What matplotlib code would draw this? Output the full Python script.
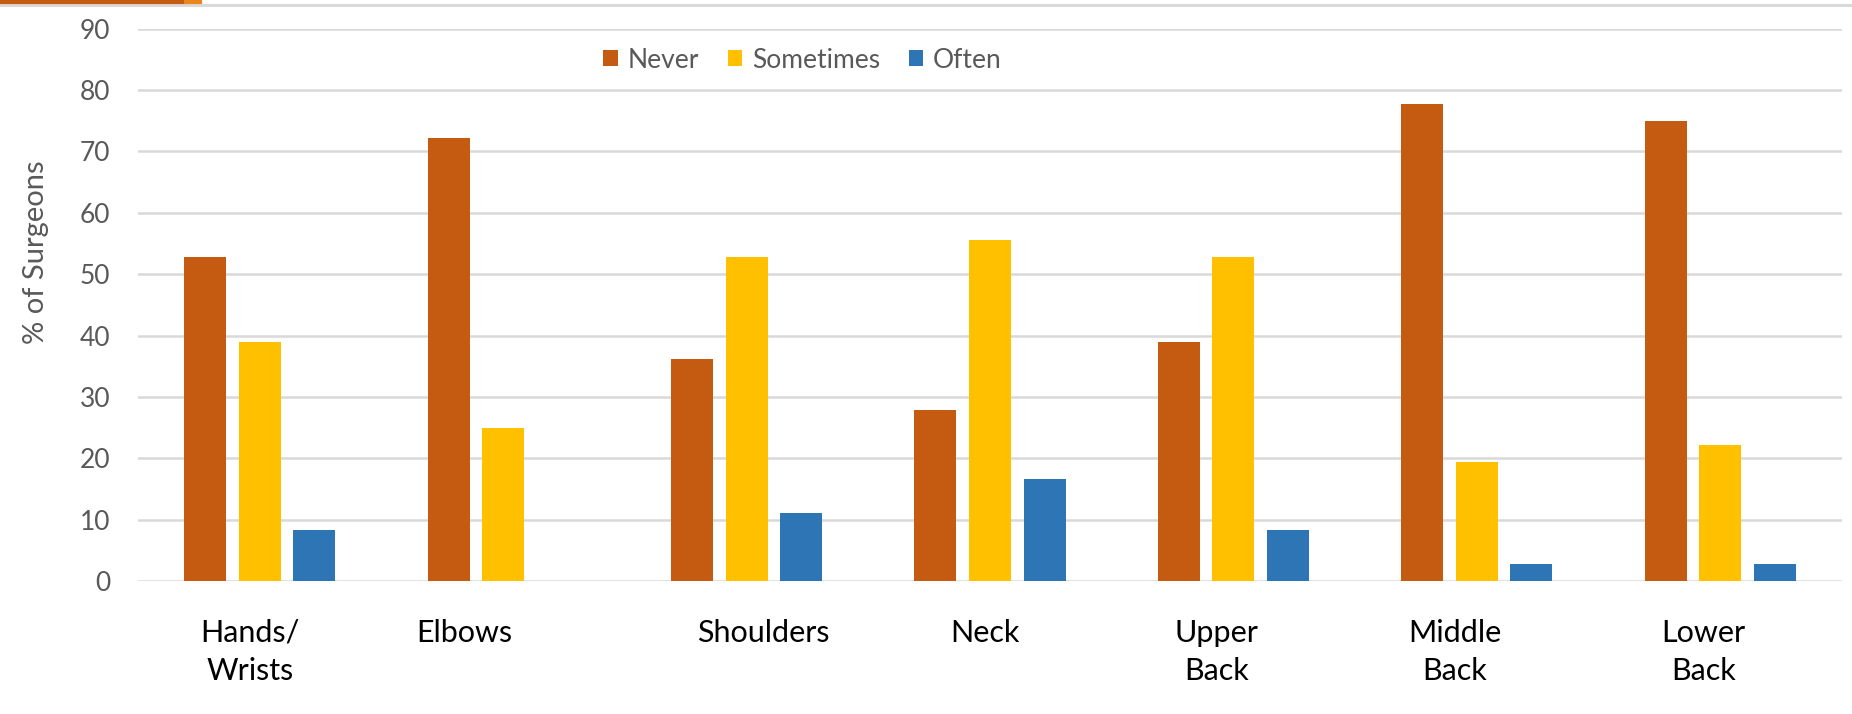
import numpy as np
import matplotlib
matplotlib.use("Agg")
from matplotlib import pyplot as plt
from matplotlib.lines import Line2D

# survey data: % of surgeons reporting discomfort per body region
regions = ["Hands/\nWrists", "Elbows", "Shoulders", "Neck",
           "Upper\nBack", "Middle\nBack", "Lower\nBack"]
never = [52.8, 72.2, 36.1, 27.8, 38.9, 77.8, 75.0]
sometimes = [38.9, 25.0, 52.8, 55.6, 52.8, 19.4, 22.2]
often = [8.3, 0.0, 11.1, 16.7, 8.3, 2.8, 2.8]
yticks = [0, 10, 20, 30, 40, 50, 60, 70, 80, 90]

colors = {"Never": "#C55A11", "Sometimes": "#FFC000", "Often": "#2E75B6"}
gray_text = "#595959"
grid_col = "#D9D9D9"

plt.rcParams["font.family"] = ["Lato", "DejaVu Sans"]

fig = plt.figure(figsize=(18.52, 7.14), dpi=100)
ax = fig.add_axes([138 / 1852, 1 - 581 / 714, 1704 / 1852, 552.3 / 714])

x = np.arange(len(regions))
w = 0.1726
step = 0.224
for off, (name, vals) in zip([-step, 0, step],
                             [("Never", never), ("Sometimes", sometimes), ("Often", often)]):
    ax.bar(x + off, vals, width=w, color=colors[name], label=name, zorder=3)

ax.set_xlim(-0.5, len(regions) - 0.5)
ax.set_ylim(0, 90)
ax.set_yticks(yticks)
ax.yaxis.grid(True, color=grid_col, linewidth=1.8, zorder=0)
ax.set_axisbelow(True)
for s in ax.spines.values():
    s.set_visible(False)
ax.tick_params(axis="y", length=0, pad=20, labelsize=19, labelcolor=gray_text)
ax.set_xticks([])
ax.set_ylabel("% of Surgeons", fontsize=21, color=gray_text)
ax.yaxis.set_label_coords(-0.052, 0.596)

# category labels sit a little off the group centres in the original
label_dx = [-0.04, -0.16, 0.07, -0.02, -0.07, -0.09, -0.07]
trans = ax.get_xaxis_transform()
for i, lab in enumerate(regions):
    ax.text(i + label_dx[i], -0.068, lab, transform=trans, ha="center", va="top",
            fontsize=22, color="black", linespacing=1.45)

leg = ax.legend(loc="center", bbox_to_anchor=(0.39, 0.943), ncol=3, frameon=False,
                fontsize=19, handlelength=0.55, handleheight=0.55,
                handletextpad=0.36, columnspacing=1.1, borderpad=0)
for t in leg.get_texts():
    t.set_color(gray_text)

# slide header strip at the very top
fig.add_artist(Line2D([0, 1], [1 - 5 / 714] * 2, color=grid_col, linewidth=2.2))
fig.add_artist(Line2D([0, 186 / 1852], [1 - 2 / 714] * 2, color="#C55A11", linewidth=3))
fig.add_artist(Line2D([186 / 1852, 200 / 1852], [1 - 2 / 714] * 2, color="#E8871E", linewidth=3))

fig.savefig("out.png", dpi=100, facecolor="white")
